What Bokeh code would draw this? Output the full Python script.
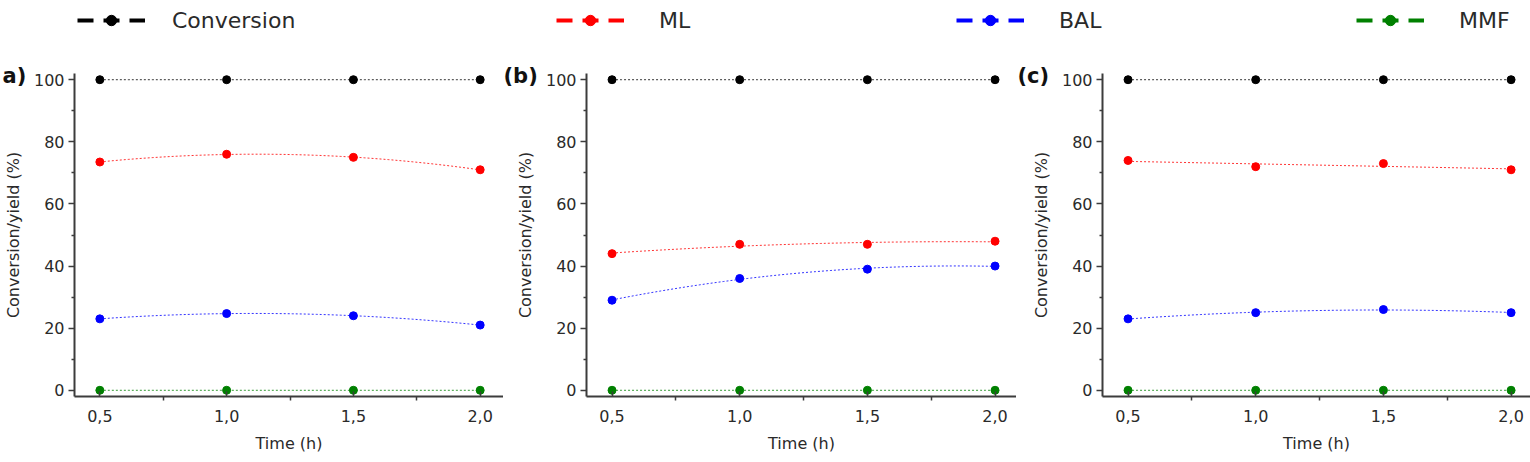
from bokeh.plotting import figure
from bokeh.layouts import column, row
from bokeh.models import Range1d, FixedTicker, Legend, LegendItem
from bokeh.embed import file_html
from bokeh.resources import INLINE
import numpy as np

# ---- data -------------------------------------------------------------
time_h = [0.5, 1.0, 1.5, 2.0]
tick_labels = {0.5: "0,5", 1.0: "1,0", 1.5: "1,5", 2.0: "2,0"}

series_names = ["Conversion", "ML", "BAL", "MMF"]
series_colors = ["#000000", "#ff0000", "#0000ff", "#008000"]

# panel a)
conv_a = [100.0, 100.0, 100.0, 100.0]
ml_a = [73.5, 76.0, 75.0, 71.0]
bal_a = [23.0, 24.7, 24.0, 21.0]
mmf_a = [0.0, 0.0, 0.0, 0.0]

# panel (b)
conv_b = [100.0, 100.0, 100.0, 100.0]
ml_b = [44.0, 47.0, 47.0, 48.0]
bal_b = [29.0, 36.0, 39.0, 40.0]
mmf_b = [0.0, 0.0, 0.0, 0.0]

# panel (c)
conv_c = [100.0, 100.0, 100.0, 100.0]
ml_c = [74.0, 72.0, 73.0, 71.0]
bal_c = [23.0, 25.0, 26.0, 25.0]
mmf_c = [0.0, 0.0, 0.0, 0.0]

panels = [
    ("a)", [conv_a, ml_a, bal_a, mmf_a]),
    ("(b)", [conv_b, ml_b, bal_b, mmf_b]),
    ("(c)", [conv_c, ml_c, bal_c, mmf_c]),
]

FONT = "DejaVu Sans"
AXIS_COLOR = "#3c3c3c"
TEXT_COLOR = "#2a2a2a"

# per-panel geometry: figure width, left border, x-range end, tag offset
geometry = [
    (503, 72, 2.092, -72),
    (513, 83, 2.084, -83),
    (514, 86, 2.076, -85),
]

PANEL_H = 412
BORDER_TOP = 23
BORDER_BOTTOM = 66


def make_panel(tag, values, width, left, x_end, tag_dx):
    p = figure(
        width=width, height=PANEL_H, title=tag,
        x_range=Range1d(0.4, x_end), y_range=Range1d(-2, 102),
        output_backend="svg", toolbar_location=None,
        min_border_left=left, min_border_right=0,
        min_border_top=BORDER_TOP, min_border_bottom=BORDER_BOTTOM,
        x_axis_label="Time (h)", y_axis_label="Conversion/yield (%)",
    )
    p.outline_line_color = None
    p.grid.visible = False
    p.background_fill_color = "white"
    p.border_fill_color = "white"

    # panel tag sits in the top-left corner, left of the y axis
    p.title.align = "left"
    p.title.offset = tag_dx
    p.title.standoff = -28
    p.title.vertical_align = "bottom"
    p.title.text_font = FONT
    p.title.text_font_size = "21px"
    p.title.text_font_style = "bold"
    p.title.text_color = "#111111"

    p.xaxis.ticker = FixedTicker(ticks=time_h, minor_ticks=[0.75, 1.25, 1.75])
    p.xaxis.major_label_overrides = tick_labels
    p.yaxis.ticker = FixedTicker(ticks=[0, 20, 40, 60, 80, 100],
                                 minor_ticks=[10, 30, 50, 70, 90])

    for ax in (p.xaxis[0], p.yaxis[0]):
        ax.axis_line_color = AXIS_COLOR
        ax.axis_line_width = 2
        ax.major_tick_line_color = AXIS_COLOR
        ax.minor_tick_line_color = AXIS_COLOR
        ax.major_tick_line_width = 1.5
        ax.minor_tick_line_width = 1.5
        ax.major_label_text_font = FONT
        ax.major_label_text_font_size = "16px"
        ax.major_label_text_color = TEXT_COLOR
        ax.axis_label_text_font = FONT
        ax.axis_label_text_font_size = "16px"
        ax.axis_label_text_font_style = "normal"
        ax.axis_label_text_color = TEXT_COLOR

    xa = p.xaxis[0]
    xa.major_tick_in = 5
    xa.major_tick_out = 0
    xa.minor_tick_in = 0
    xa.minor_tick_out = 4
    xa.major_label_standoff = 9
    xa.axis_label_standoff = 9

    ya = p.yaxis[0]
    ya.major_tick_in = 0
    ya.major_tick_out = 6
    ya.minor_tick_in = 0
    ya.minor_tick_out = 3
    ya.major_label_standoff = 4
    ya.axis_label_standoff = 8

    # quadratic trend line through each series, then the measured points
    grid = np.linspace(time_h[0], time_h[-1], 80)
    for vals, color in zip(values, series_colors):
        coef = np.polyfit(time_h, vals, 2)
        p.line(grid, np.polyval(coef, grid), line_color=color,
               line_width=1, line_dash="2 2", line_alpha=0.8)
    for vals, color in zip(values, series_colors):
        p.scatter(time_h, vals, marker="circle", size=8,
                  fill_color=color, line_color=color)
    return p


figs = [make_panel(tag, vals, *geom) for (tag, vals), geom in zip(panels, geometry)]

# ---- legend strip across the top ---------------------------------------
# the strip's y range lies far above the data, so only the legend shows
leg = figure(width=1530, height=50, x_range=Range1d(0, 1), y_range=Range1d(1000, 1001),
             output_backend="svg", toolbar_location=None,
             x_axis_location=None, y_axis_location=None,
             min_border=0)
leg.outline_line_color = None
leg.grid.visible = False

items = []
for name, color, vals in zip(series_names, series_colors, panels[0][1]):
    ln = leg.line(time_h, vals, line_color=color, line_width=4, line_dash="16 10")
    dot = leg.scatter(time_h, vals, marker="circle", size=11,
                      fill_color=color, line_color=color)
    items.append(LegendItem(label=name, renderers=[ln, dot]))


def styled_legend(its, x, standoff, **kw):
    return Legend(items=its, location=(x, 17), orientation="horizontal",
                  glyph_width=68, glyph_height=26, label_height=26,
                  label_standoff=standoff, padding=0, margin=0,
                  border_line_alpha=0, background_fill_alpha=0,
                  label_text_font=FONT, label_text_font_size="22px",
                  label_text_color=TEXT_COLOR, **kw)


leg.add_layout(styled_legend(items[:1], 77, 27), "center")
leg.add_layout(styled_legend(items[1:], 556, 35, label_width=100, spacing=197), "center")

page = column(leg, row(*figs, spacing=0), spacing=0)
open("out.html", "w").write(file_html(page, INLINE))
